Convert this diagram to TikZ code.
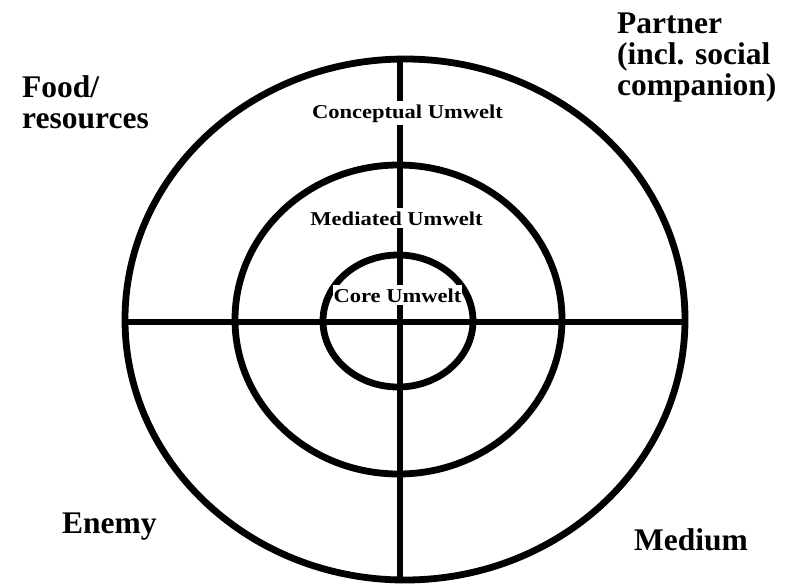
\documentclass[tikz,border=0pt]{standalone}
\usepackage{fontspec}
\newfontfamily\bigfont{Liberation Serif}[BoldFont={* Bold}]
\newfontfamily\smallfont{Liberation Serif}[FakeStretch=1.15]
\begin{document}
\begin{tikzpicture}[x=1pt,y=-1pt,
  ring/.style={line width=6.8pt},
  axis/.style={line width=6.5pt},
  ringlabel/.style={font=\smallfont\bfseries\fontsize{19.6}{21}\selectfont, fill=white, anchor=base, inner xsep=1pt, inner ysep=3pt},
  sidelabel/.style={font=\bigfont\bfseries\fontsize{31.5}{31}\selectfont, align=left, anchor=base west, inner sep=0pt}]
\useasboundingbox (0,0) rectangle (797,584);
% rings
\draw[ring] (405,319.5) ellipse [x radius=280pt, y radius=260.5pt];
\draw[ring] (398.5,319.5) ellipse [x radius=163.5pt, y radius=154.5pt];
\draw[ring] (398,321) ellipse [x radius=75pt, y radius=66pt];
% axes
\coordinate (top) at (400,59);
\coordinate (bottom) at (400,580);
\coordinate (left) at (125,322);
\coordinate (right) at (685,322);
\draw[axis] (top) -- (bottom);
\draw[axis] (left) -- (right);
% ring labels
\node[ringlabel] (conceptual) at (407.5,118) {Conceptual Umwelt};
\node[ringlabel] (mediated) at (396.5,225) {Mediated Umwelt};
\node[ringlabel] (core) at (397.5,302) {Core Umwelt};
% side labels
\node[sidelabel] (food) at (22,97) {Food/};
\node[sidelabel] (resources) at (22,128) {resources};
\node[sidelabel] (partner) at (617,33) {Partner};
\node[sidelabel] (incl) at (617,64) {(incl. social};
\node[sidelabel] (companion) at (617,95) {companion)};
\node[sidelabel] (enemy) at (62,533) {Enemy};
\node[sidelabel] (medium) at (634,550) {Medium};
\end{tikzpicture}
\end{document}
